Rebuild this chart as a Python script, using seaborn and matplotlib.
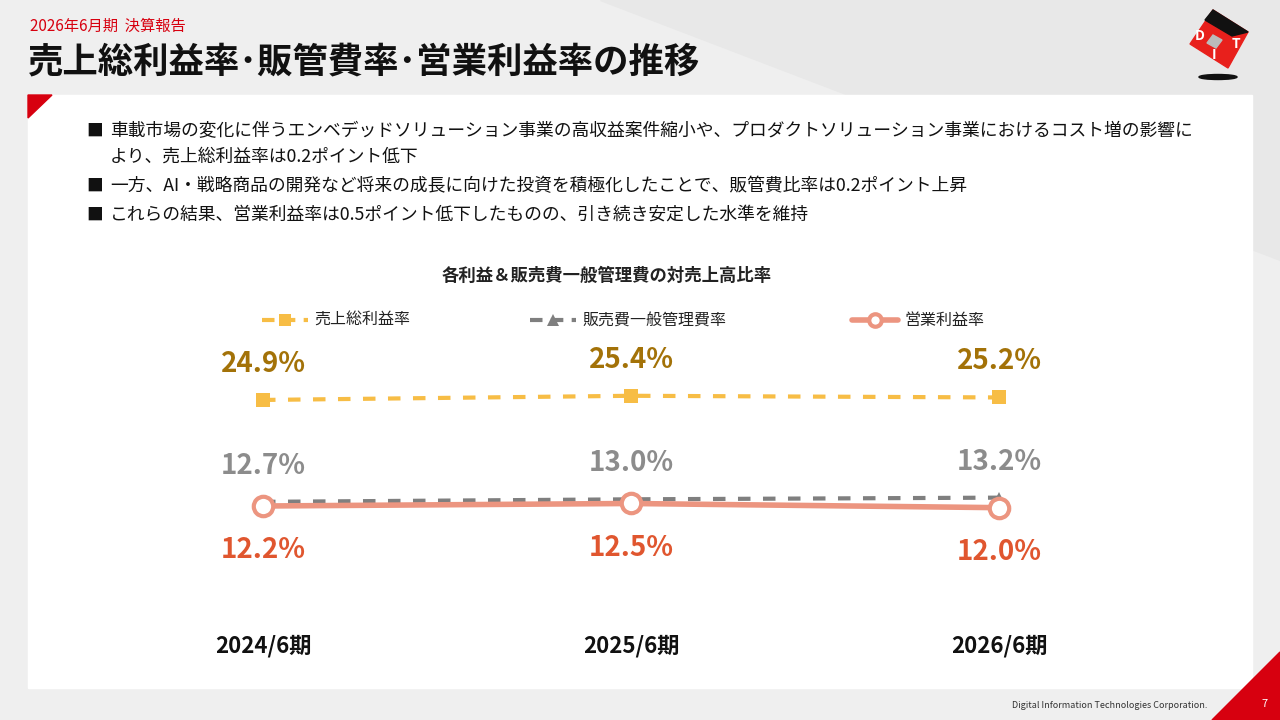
import matplotlib
matplotlib.use("Agg")
import matplotlib.pyplot as plt
import seaborn as sns
import pandas as pd
from matplotlib.patches import Rectangle, Polygon

sns.set_theme(style="white")
plt.rcParams['font.family'] = ['Noto Sans CJK JP', 'DejaVu Sans']

periods = ["2024/6期", "2025/6期", "2026/6期"]
gross = [24.9, 25.4, 25.2]
sga = [12.7, 13.0, 13.2]
op = [12.2, 12.5, 12.0]
series_names = ["売上総利益率", "販売費一般管理費率", "営業利益率"]

W, H = 1280, 720
fig = plt.figure(figsize=(12.8, 7.2), dpi=100)
fig.patch.set_facecolor("#efefef")

bg = fig.add_axes([0, 0, 1, 1])
bg.set_xlim(0, W); bg.set_ylim(H, 0); bg.axis("off")
bg.add_patch(Polygon([[600, 0], [1280, 0], [1280, 260]], color="#e8e8e8", zorder=0))
bg.add_patch(Rectangle((28, 95), 1224, 593, color="white", zorder=1))
bg.add_patch(Polygon([[28, 95], [52, 95], [28, 118]], color="#d7000f", zorder=2))
bg.add_patch(Polygon([[1212, 720], [1280, 652], [1280, 720]], color="#d7000f", zorder=2))
# logo
bg.add_patch(Polygon([[1213, 10], [1248, 32], [1228, 68], [1190, 44]], color="#e8201c", zorder=3))
bg.add_patch(Polygon([[1213, 10], [1248, 32], [1232, 36], [1205, 20]], color="#111111", zorder=4))
bg.add_patch(Polygon([[1213, 35], [1222, 40], [1216, 48], [1207, 43]], color="#bbbbbb", zorder=4))
for t, (lx, ly) in zip("DIT", [(1200, 36), (1214, 55), (1236, 44)]):
    bg.text(lx, ly, t, color="white", fontsize=10, fontweight="bold", ha="center", va="center", zorder=5)
bg.add_patch(matplotlib.patches.Ellipse((1218, 77), 38, 5, color="#111111", zorder=3))

fig.text(30/W, 1-26/H, "2026年6月期  決算報告", color="#d7000f", fontsize=11, va="center")
fig.text(28/W, 1-62/H, "売上総利益率･販管費率･営業利益率の推移", color="#111111",
         fontsize=25.5, fontweight="bold", va="center")
bullets = [
    (131, "■", "車載市場の変化に伴うエンベデッドソリューション事業の高収益案件縮小や、プロダクトソリューション事業におけるコスト増の影響に"),
    (157, "", "より、売上総利益率は0.2ポイント低下"),
    (186, "■", "一方、AI・戦略商品の開発など将来の成長に向けた投資を積極化したことで、販管費比率は0.2ポイント上昇"),
    (215, "■", "これらの結果、営業利益率は0.5ポイント低下したものの、引き続き安定した水準を維持"),
]
for y, b, t in bullets:
    if b:
        fig.text(86/W, 1-y/H, b, fontsize=12, va="center", color="#111111")
    fig.text(110/W, 1-y/H, t, fontsize=12.8, va="center", color="#111111")
fig.text(607/W, 1-276/H, "各利益＆販売費一般管理費の対売上高比率", fontsize=12.5,
         fontweight="bold", ha="center", va="center", color="#222222")
fig.text(1207/W, 1-706/H, "Digital Information Technologies Corporation.", fontsize=6.5,
         ha="right", va="center", color="#333333")
fig.text(1265/W, 1-704/H, "7", fontsize=8, ha="center", va="center", color="white")

ax = fig.add_axes([0, 0, 1, 1])
ax.patch.set_alpha(0)
px_unit, x0 = 368.0, 263.0
ppp, yref, vref = 8.35, 506.0, 12.2
ax.set_xlim(-x0/px_unit, (W-x0)/px_unit)
ax.set_ylim(vref - (H-yref)/ppp, vref + yref/ppp)
ax.axis("off")

idx = list(range(len(periods)))
df = pd.DataFrame({"x": idx*3, "v": gross+sga+op,
                   "s": sum([[n]*3 for n in series_names], [])})
c_g, c_s, c_o = "#f7bd45", "#7f7f7f", "#ec9580"
sns.lineplot(data=df[df.s == series_names[0]], x="x", y="v", ax=ax, color=c_g, lw=3,
             linestyle=(0, (3, 3)), marker="s", markersize=10, markeredgewidth=0, legend=False)
sns.lineplot(data=df[df.s == series_names[1]], x="x", y="v", ax=ax, color=c_s, lw=3,
             linestyle=(0, (3, 3)), marker="^", markersize=8, markeredgewidth=0, legend=False)
sns.lineplot(data=df[df.s == series_names[2]], x="x", y="v", ax=ax, color=c_o, lw=4,
             marker="o", markersize=14, markerfacecolor="white", markeredgecolor=c_o,
             markeredgewidth=3, legend=False)

for i in idx:
    ax.annotate(f"{gross[i]:.1f}%", (i, gross[i]), xytext=(0, 26), textcoords="offset points",
                ha="center", va="center", fontsize=20, fontweight="bold", color="#a37208")
    ax.annotate(f"{sga[i]:.1f}%", (i, sga[i]), xytext=(0, 26), textcoords="offset points",
                ha="center", va="center", fontsize=20, fontweight="bold", color="#8c8c8c")
    ax.annotate(f"{op[i]:.1f}%", (i, op[i]), xytext=(0, -32), textcoords="offset points",
                ha="center", va="center", fontsize=20, fontweight="bold", color="#e0562f")
    ax.text(i, vref - (646-yref)/ppp, periods[i], ha="center", va="center",
            fontsize=16, fontweight="bold", color="#111111")

leg = [(262, c_g, "s", (0, (3, 2)), 3, series_names[0]),
       (530, c_s, "^", (0, (3, 2)), 3, series_names[1]),
       (852, c_o, "o", "-", 4, series_names[2])]
for lx, c, m, ls, lw, name in leg:
    bg.plot([lx, lx+46], [320, 320], color=c, ls=ls, lw=lw, zorder=5)
    if m == "o":
        bg.plot(lx+23, 320, marker="o", ms=9, mfc="white", mec=c, mew=3, zorder=6)
    else:
        bg.plot(lx+23, 320, marker=m, ms=8, color=c, zorder=6, mew=0)
    bg.text(lx+52, 320, name, fontsize=11.5, va="center", color="#222222", zorder=6)

fig.savefig("out.png", dpi=100)
